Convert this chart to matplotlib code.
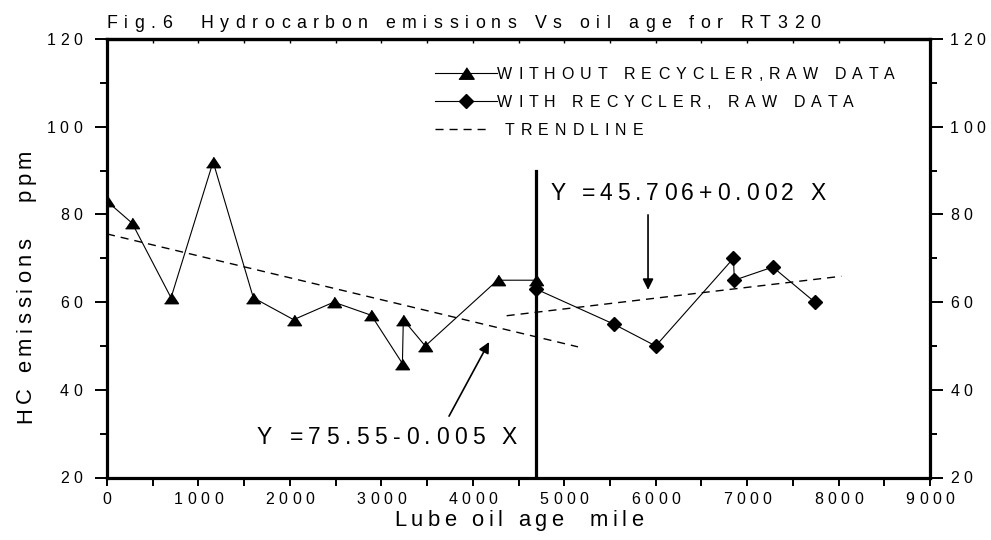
import matplotlib
matplotlib.use('Agg')
import matplotlib.pyplot as plt
from matplotlib.ticker import MultipleLocator
from matplotlib.transforms import offset_copy, blended_transform_factory
from matplotlib.font_manager import FontProperties, findfont, get_font
from matplotlib.lines import Line2D

FAMILY = 'Liberation Sans'
plt.rcParams['font.family'] = [FAMILY, 'DejaVu Sans']

# without recycler, raw data
mile_wo = [0, 275, 700, 1160, 1600, 2040, 2480, 2890, 3230, 3240, 3480, 4270, 4690]
hc_wo = [83, 78, 61, 92, 61, 56, 60, 57, 46, 56, 50, 65, 65]

# with recycler, raw data
mile_w = [4690, 5540, 6000, 6850, 6860, 7280, 7740]
hc_w = [63, 55, 50, 70, 65, 68, 60]

# trendlines (end points)
trend1_x = [0, 5150]
trend1_y = [75.55, 49.8]
trend2_x = [4370, 8030]
trend2_y = [56.9, 65.9]

# recycler fitted at this mileage
recycler_mile = 4690
recycler_top = 90

x_ticks = list(range(0, 9001, 1000))
y_ticks = list(range(20, 121, 20))

title = 'Fig.6  Hydrocarbon emissions Vs oil age for RT320'
xlabel = 'Lube oil age  mile'
ylabel = 'HC emissions   ppm'
legend_labels = ['WITHOUT RECYCLER,RAW DATA', 'WITH RECYCLER, RAW DATA', 'TRENDLINE']
eq1 = 'Y =75.55-0.005 X'
eq2 = 'Y =45.706+0.002 X'

tri = [(-1, -0.75), (1, -0.75), (0, 0.75)]

fig = plt.figure(figsize=(9.91, 5.4), dpi=100)
ax = fig.add_axes([0.108, 0.1157, 0.8305, 0.812])

base_font = get_font(findfont(FontProperties(family=FAMILY)))


# the original figure uses wide letter spacing, so put the letters one by one
def spaced_text(x, y, s, size, track, transform, ha='left', rotation=0, dx=0, dy=0):
    base_font.set_size(size, 72)
    adv = [base_font.load_char(ord(c)).linearHoriAdvance / 65536 for c in s]
    total = sum(adv) + track * (len(s) - 1)
    pos = {'left': 0, 'center': -total / 2, 'right': -total}[ha]
    for c, a in zip(s, adv):
        if c != ' ':
            if rotation == 90:
                tr = offset_copy(transform, fig=fig, x=dx, y=dy + pos, units='points')
            else:
                tr = offset_copy(transform, fig=fig, x=dx + pos, y=dy, units='points')
            fig.text(x, y, c, transform=tr, fontsize=size, family=FAMILY,
                     rotation=rotation, rotation_mode='anchor', ha='left', va='baseline')
        pos += a + track


ax.plot(mile_wo, hc_wo, color='black', lw=0.8, marker=tri, ms=10)
ax.plot(mile_w, hc_w, color='black', lw=0.8, marker='D', ms=7.5)
ax.plot(trend1_x, trend1_y, color='black', lw=1.0, dashes=(5.8, 4.3))
ax.plot(trend2_x, trend2_y, color='black', lw=1.0, dashes=(5.8, 4.3))
ax.plot([recycler_mile, recycler_mile], [20, recycler_top], color='black', lw=2.3)

ax.annotate('', xy=(5916, 62.8), xytext=(5916, 79.9),
            arrowprops=dict(arrowstyle='-|>', color='black', lw=1.2, mutation_scale=16,
                            shrinkA=0, shrinkB=0))
ax.annotate('', xy=(4178, 50.9), xytext=(3740, 34.0),
            arrowprops=dict(arrowstyle='-|>', color='black', lw=1.2, mutation_scale=16,
                            shrinkA=0, shrinkB=0))
spaced_text(4845, 83.3, eq2, 16.5, 3.5, ax.transData)
spaced_text(1640, 27.6, eq1, 16.5, 3.9, ax.transData)

ax.set_xlim(0, 9000)
ax.set_ylim(20, 120)
ax.xaxis.set_major_locator(MultipleLocator(1000))
ax.xaxis.set_minor_locator(MultipleLocator(500))
ax.yaxis.set_major_locator(MultipleLocator(20))
ax.yaxis.set_minor_locator(MultipleLocator(10))
ax.tick_params(axis='x', which='both', direction='out', length=5.8, width=1.4,
               top=False, labelbottom=False)
ax.tick_params(axis='y', which='major', direction='out', length=9, width=1.4,
               right=True, labelleft=False)
ax.tick_params(axis='y', which='minor', direction='out', length=5, width=1.4, right=True)
for s in ax.spines.values():
    s.set_linewidth(2.3)

top = ax.secondary_xaxis('top')
top.xaxis.set_major_locator(MultipleLocator(500))
top.tick_params(direction='in', length=3, width=1.0, labeltop=False)
top.spines['top'].set_linewidth(2.3)

# tick labels
ytr = blended_transform_factory(ax.transAxes, ax.transData)
xtr = blended_transform_factory(ax.transData, ax.transAxes)
for v in y_ticks:
    spaced_text(0, v, str(v), 11.5, 3.2, ytr, ha='right', dx=-18, dy=-4.2)
    spaced_text(1, v, str(v), 11.5, 3.2, ytr, ha='left', dx=14.5, dy=-4.2)
for v in x_ticks:
    spaced_text(v, 0, str(v), 11.5, 3.2, xtr, ha='center', dy=-19)

# title and axis labels
spaced_text(0.107, 0.9476, title, 12.8, 4.7, fig.transFigure)
spaced_text(0.5, 0.026, xlabel, 15.8, 3.3,
            blended_transform_factory(ax.transAxes, fig.transFigure), ha='center')
spaced_text(0.0313, 0.2167, ylabel, 15.8, 3.3, fig.transFigure, rotation=90)

# legend, drawn by hand to keep the spaced lettering
W, H = 991, 540
rows = [72.7, 101, 129.3]
for yc, mk, sz in [(rows[0], tri, 11), (rows[1], 'D', 7.5)]:
    fig.add_artist(Line2D([435 / W, 497 / W], [1 - yc / H] * 2, color='black', lw=0.8,
                          transform=fig.transFigure))
    fig.add_artist(Line2D([466 / W], [1 - yc / H], color='black', marker=mk, ms=sz,
                          lw=0, transform=fig.transFigure))
fig.add_artist(Line2D([435 / W, 488 / W], [1 - rows[2] / H] * 2, color='black', lw=1.0,
                      dashes=(5.8, 4.3), transform=fig.transFigure))
spaced_text(497 / W, 1 - (rows[0] + 6) / H, legend_labels[0], 11.5, 4.3, fig.transFigure)
spaced_text(497 / W, 1 - (rows[1] + 6) / H, legend_labels[1], 11.5, 4.3, fig.transFigure)
spaced_text(505 / W, 1 - (rows[2] + 6) / H, legend_labels[2], 11.5, 4.3, fig.transFigure)

fig.savefig('out.png', dpi=100)
